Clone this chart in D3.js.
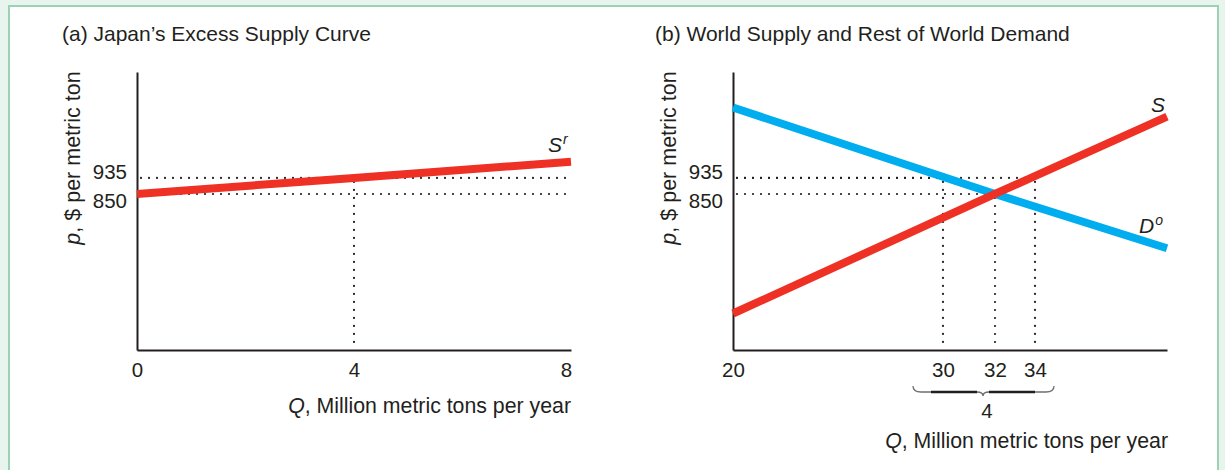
<!DOCTYPE html>
<html>
<head>
<meta charset="utf-8">
<script src="https://cdn.jsdelivr.net/npm/d3@7/dist/d3.min.js"></script>
<style>
  html, body { margin: 0; padding: 0; background: #e8f4ee; }
  svg { display: block; }
  text { font-family: "Liberation Sans", Arial, Helvetica, sans-serif; fill: #231f20; }
</style>
</head>
<body>
<svg id="chart" width="1225" height="470"></svg>
<script>
// ---------- data ----------
const priceTicks = [850, 935];
const qTicksA = [0, 4, 8];
const qTicksB = [20, 30, 32, 34];
const japanExcessSupply = [[0, 850], [4, 935], [8, 1020]];
const worldSupply = [[20, 218], [32, 850], [40, 1259]];
const restOfWorldDemand = [[20, 1307], [32, 850], [40, 563]];
const guidesA = [{ q: 4, p: 935 }];
const guidesB = [{ q: 30, p: 935 }, { q: 32, p: 850 }, { q: 34, p: 935 }];
const exportsRange = [30, 34];
const exportsLabel = "4";

const ink = "#231f20";
const red = "#ee3124";
const blue = "#00aeef";
const FS = 20.5;

const svg = d3.select("#chart");

// panel frame
svg.append("rect").attr("x", 0).attr("y", 0).attr("width", 1225).attr("height", 470).attr("fill", "#e8f4ee");
svg.append("rect").attr("x", 9).attr("y", 6).attr("width", 1209).attr("height", 480)
  .attr("fill", "#ffffff").attr("stroke", "#9dd1b4").attr("stroke-width", 2);

// ---------- scales ----------
const y = d3.scaleLinear().domain([25, 1495]).range([350, 72]);
const xA = d3.scaleLinear().domain([0, 8]).range([137, 571]);
const xB = d3.scaleLinear().domain([20, 30, 32, 34, 40]).range([733, 943, 995, 1035, 1167]);

function drawPanel(g, x, qTicks, supply, demand, guides, title, titleX) {
  // title
  g.append("text").attr("x", titleX).attr("y", 41).attr("font-size", 21).text(title);

  // y axis label
  const yl = g.append("text")
    .attr("transform", `translate(${x.range()[0] - 57},158) rotate(-90)`)
    .attr("text-anchor", "middle").attr("font-size", 21.5);
  yl.append("tspan").attr("font-style", "italic").text("p");
  yl.append("tspan").text(", $ per metric ton");

  // dotted guides
  const x0 = x.range()[0];
  const dotted = sel => sel.attr("stroke", ink).attr("stroke-width", 2.2)
    .attr("stroke-dasharray", "0,8").attr("stroke-linecap", "round").attr("fill", "none");

  guides.forEach(gd => {
    g.append("line").attr("x1", x0 + 4).attr("x2", gd.hEnd !== undefined ? gd.hEnd : x(gd.q))
      .attr("y1", y(gd.p)).attr("y2", y(gd.p)).call(dotted);
    g.append("line").attr("x1", x(gd.q)).attr("x2", x(gd.q))
      .attr("y1", y(gd.p) + 4).attr("y2", y.range()[0] - 2).call(dotted);
  });

  // axes
  const xAxis = d3.axisBottom(x).tickValues(qTicks).tickSize(0).tickPadding(12).tickFormat(d3.format("d"));
  const gx = g.append("g").attr("class", "xaxis").attr("transform", `translate(0,${y.range()[0]})`).call(xAxis);
  const yAxis = d3.axisLeft(y).tickValues(priceTicks).tickSize(0).tickPadding(10);
  const gy = g.append("g").attr("transform", `translate(${x0},0)`).call(yAxis);
  [gx, gy].forEach(a => {
    a.select(".domain").attr("stroke", ink).attr("stroke-width", 2);
    a.selectAll("text").attr("font-size", FS).attr("fill", ink)
      .attr("font-family", '"Liberation Sans", Arial, sans-serif');
  });
  gy.selectAll(".tick text").attr("dy", d => d === 935 ? "0.05em" : "0.68em");
  gx.selectAll(".tick text").attr("dy", "0.71em");

  const line = d3.line().x(d => x(d[0])).y(d => y(d[1]));
  if (demand) {
    g.append("path").datum(demand).attr("d", line).attr("fill", "none")
      .attr("stroke", blue).attr("stroke-width", 8);
  }
  g.append("path").datum(supply).attr("d", line).attr("fill", "none")
    .attr("stroke", red).attr("stroke-width", 8);
  return gx;
}

function qLabel(g, xRight, yBase) {
  g.append("text").attr("x", xRight).attr("y", yBase).attr("text-anchor", "end").attr("font-size", 21.3)
    .call(t => { t.append("tspan").attr("font-style", "italic").text("Q"); t.append("tspan").text(", Million metric tons per year"); });
}

// ---------- panel (a) ----------
const gA = svg.append("g");
const guidesAFull = guidesA.map(d => Object.assign({}, d, { hEnd: xA.range()[1] }));
gA.append("line").attr("x1", 141).attr("x2", xA.range()[1]).attr("y1", y(850)).attr("y2", y(850))
  .attr("stroke", ink).attr("stroke-width", 2.2).attr("stroke-dasharray", "0,8").attr("stroke-linecap", "round");
drawPanel(gA, xA, qTicksA, japanExcessSupply, null, guidesAFull, "(a) Japan\u2019s Excess Supply Curve", 62);
gA.select(".xaxis").selectAll(".tick text").attr("x", d => d === 8 ? -5 : 0);

const srLabel = gA.append("text").attr("x", 548).attr("y", 152).attr("font-size", 21).attr("font-style", "italic");
srLabel.append("tspan").text("S");
srLabel.append("tspan").attr("font-size", 14).attr("dx", 1).attr("dy", -8).text("r");

qLabel(gA, 571, 413);

// ---------- panel (b) ----------
const gB = svg.append("g");
drawPanel(gB, xB, qTicksB, worldSupply, restOfWorldDemand, guidesB, "(b) World Supply and Rest of World Demand", 655);

gB.append("text").attr("x", 1151).attr("y", 112).attr("font-size", 21).attr("font-style", "italic").text("S");
const dLabel = gB.append("text").attr("x", 1139).attr("y", 233).attr("font-size", 21).attr("font-style", "italic");
dLabel.append("tspan").text("D");
dLabel.append("tspan").attr("font-size", 14).attr("dx", 1).attr("dy", -8).text("o");

// brace under exports
const bx1 = xB(exportsRange[0]) - 30, bx2 = xB(exportsRange[1]) + 19;
const bmid = (xB(exportsRange[0]) + xB(exportsRange[1])) / 2 - 6;
const by = 392;
const brace = d3.path();
brace.moveTo(bx1, by - 6);
brace.quadraticCurveTo(bx1, by, bx1 + 8, by);
brace.lineTo(bmid - 6, by);
brace.quadraticCurveTo(bmid, by, bmid, by + 4);
brace.quadraticCurveTo(bmid, by, bmid + 6, by);
brace.lineTo(bx2 - 8, by);
brace.quadraticCurveTo(bx2, by, bx2, by - 6);
gB.append("path").attr("d", brace.toString()).attr("fill", "none").attr("stroke", "#6d6e70").attr("stroke-width", 1.3);
gB.append("line").attr("x1", xB(exportsRange[0]) - 12).attr("x2", bmid - 6).attr("y1", by).attr("y2", by)
  .attr("stroke", ink).attr("stroke-width", 2.4);
gB.append("line").attr("x1", bmid + 6).attr("x2", xB(exportsRange[1])).attr("y1", by).attr("y2", by)
  .attr("stroke", ink).attr("stroke-width", 2.4);
gB.append("text").attr("x", bmid + 4).attr("y", 418).attr("text-anchor", "middle").attr("font-size", FS).text(exportsLabel);

qLabel(gB, 1168, 448);
</script>
</body>
</html>
